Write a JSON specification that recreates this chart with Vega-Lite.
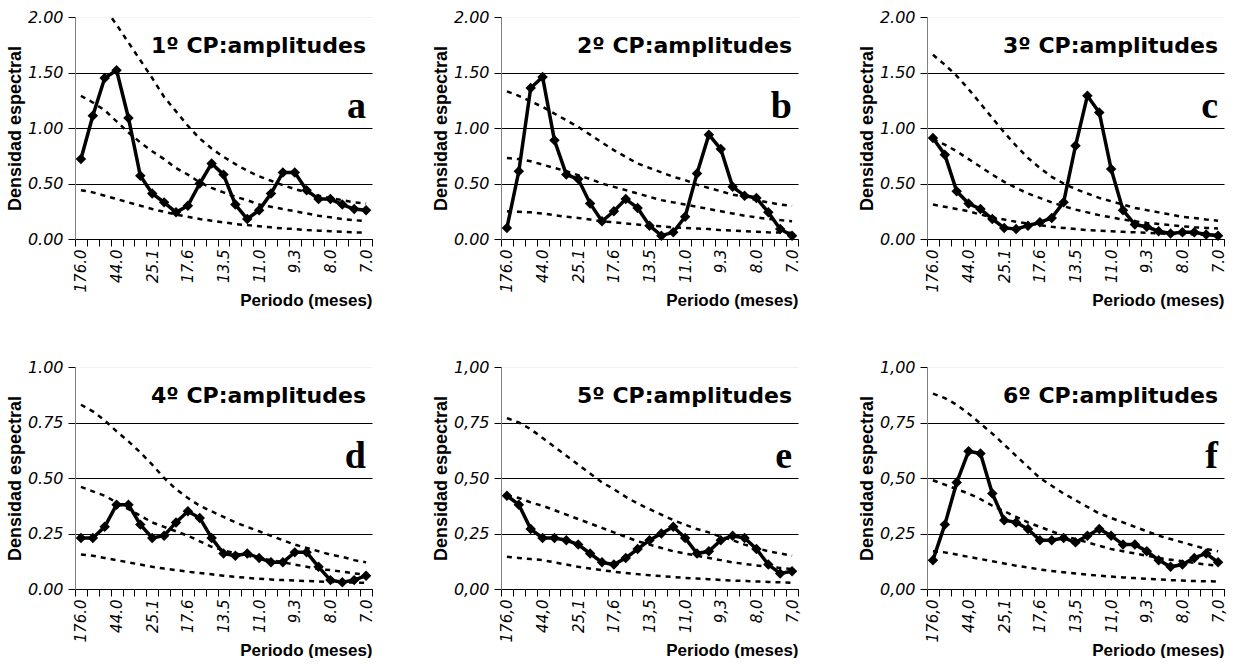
{
  "$schema": "https://vega.github.io/schema/vega-lite/v6.json",
  "background": "white",
  "padding": {"left": 6, "top": 9, "right": 0, "bottom": 0},
  "config": {
    "view": {"stroke": null},
    "font": "Liberation Sans",
    "axis": {"labelColor": "black", "titleColor": "black", "tickColor": "black", "labelFont": "DejaVu Sans", "labelFontStyle": "italic", "titleFont": "Liberation Sans", "titleFontWeight": "bold", "tickSize": 7},
    "axisX": {"domainColor": "black", "tickBand": "extent", "labelAngle": 270, "labelFontSize": 15, "labelPadding": 3, "labelOverlap": false, "grid": false, "titleFontSize": 17, "titleAnchor": "end", "titleAlign": "right", "titleY": 53},
    "axisY": {"domainColor": "#808080", "grid": true, "gridWidth": 1, "labelFontSize": 16, "titleFontSize": 18, "titlePadding": 3, "labelPadding": 5},
    "title": {"anchor": "end", "frame": "group", "font": "DejaVu Sans", "fontSize": 22, "fontWeight": "bold", "color": "black", "offset": -118, "dx": -6, "subtitleFont": "Liberation Serif", "subtitleFontSize": 38, "subtitleFontWeight": "bold", "subtitleColor": "black", "subtitlePadding": 30}
  },
  "datasets": {
    "a": [
      {"k":1,"per":"176.0","obs":0.72,"sup":2.45,"med":1.29,"inf":0.44},
      {"k":2,"per":"88.0","obs":1.11,"sup":2.27,"med":1.23,"inf":0.42},
      {"k":3,"per":"58.7","obs":1.45,"sup":2.08,"med":1.16,"inf":0.39},
      {"k":4,"per":"44.0","obs":1.52,"sup":1.93,"med":1.06,"inf":0.36},
      {"k":5,"per":"35.2","obs":1.09,"sup":1.77,"med":0.96,"inf":0.33},
      {"k":6,"per":"29.3","obs":0.57,"sup":1.61,"med":0.87,"inf":0.30},
      {"k":7,"per":"25.1","obs":0.41,"sup":1.45,"med":0.79,"inf":0.27},
      {"k":8,"per":"22.0","obs":0.33,"sup":1.28,"med":0.72,"inf":0.245},
      {"k":9,"per":"19.6","obs":0.24,"sup":1.15,"med":0.64,"inf":0.22},
      {"k":10,"per":"17.6","obs":0.30,"sup":1.02,"med":0.58,"inf":0.20},
      {"k":11,"per":"16.0","obs":0.50,"sup":0.905,"med":0.51,"inf":0.18},
      {"k":12,"per":"14.7","obs":0.68,"sup":0.815,"med":0.46,"inf":0.165},
      {"k":13,"per":"13.5","obs":0.58,"sup":0.74,"med":0.42,"inf":0.15},
      {"k":14,"per":"12.6","obs":0.31,"sup":0.675,"med":0.38,"inf":0.135},
      {"k":15,"per":"11.7","obs":0.18,"sup":0.615,"med":0.35,"inf":0.125},
      {"k":16,"per":"11.0","obs":0.26,"sup":0.565,"med":0.31,"inf":0.115},
      {"k":17,"per":"10.4","obs":0.41,"sup":0.525,"med":0.29,"inf":0.105},
      {"k":18,"per":"9.8","obs":0.60,"sup":0.485,"med":0.27,"inf":0.095},
      {"k":19,"per":"9.3","obs":0.60,"sup":0.45,"med":0.25,"inf":0.09},
      {"k":20,"per":"8.8","obs":0.44,"sup":0.42,"med":0.23,"inf":0.08},
      {"k":21,"per":"8.4","obs":0.36,"sup":0.39,"med":0.21,"inf":0.075},
      {"k":22,"per":"8.0","obs":0.36,"sup":0.37,"med":0.195,"inf":0.07},
      {"k":23,"per":"7.7","obs":0.31,"sup":0.35,"med":0.18,"inf":0.065},
      {"k":24,"per":"7.3","obs":0.27,"sup":0.33,"med":0.17,"inf":0.06},
      {"k":25,"per":"7.0","obs":0.26,"sup":0.32,"med":0.16,"inf":0.058}
    ],
    "b": [
      {"k":1,"per":"176.0","obs":0.10,"sup":1.33,"med":0.73,"inf":0.25},
      {"k":2,"per":"88.0","obs":0.61,"sup":1.29,"med":0.72,"inf":0.245},
      {"k":3,"per":"58.7","obs":1.36,"sup":1.24,"med":0.70,"inf":0.24},
      {"k":4,"per":"44.0","obs":1.46,"sup":1.19,"med":0.67,"inf":0.23},
      {"k":5,"per":"35.2","obs":0.89,"sup":1.13,"med":0.64,"inf":0.215},
      {"k":6,"per":"29.3","obs":0.58,"sup":1.07,"med":0.61,"inf":0.20},
      {"k":7,"per":"25.1","obs":0.54,"sup":1.01,"med":0.575,"inf":0.19},
      {"k":8,"per":"22.0","obs":0.32,"sup":0.94,"med":0.54,"inf":0.175},
      {"k":9,"per":"19.6","obs":0.16,"sup":0.87,"med":0.50,"inf":0.16},
      {"k":10,"per":"17.6","obs":0.25,"sup":0.80,"med":0.47,"inf":0.15},
      {"k":11,"per":"16.0","obs":0.36,"sup":0.74,"med":0.44,"inf":0.14},
      {"k":12,"per":"14.7","obs":0.28,"sup":0.68,"med":0.41,"inf":0.13},
      {"k":13,"per":"13.5","obs":0.12,"sup":0.64,"med":0.38,"inf":0.12},
      {"k":14,"per":"12.6","obs":0.03,"sup":0.60,"med":0.35,"inf":0.115},
      {"k":15,"per":"11.7","obs":0.06,"sup":0.56,"med":0.33,"inf":0.105},
      {"k":16,"per":"11.0","obs":0.20,"sup":0.53,"med":0.31,"inf":0.10},
      {"k":17,"per":"10.4","obs":0.59,"sup":0.49,"med":0.29,"inf":0.095},
      {"k":18,"per":"9.8","obs":0.94,"sup":0.46,"med":0.27,"inf":0.09},
      {"k":19,"per":"9.3","obs":0.81,"sup":0.43,"med":0.25,"inf":0.08},
      {"k":20,"per":"8.8","obs":0.47,"sup":0.40,"med":0.23,"inf":0.075},
      {"k":21,"per":"8.4","obs":0.39,"sup":0.38,"med":0.21,"inf":0.07},
      {"k":22,"per":"8.0","obs":0.37,"sup":0.35,"med":0.195,"inf":0.065},
      {"k":23,"per":"7.7","obs":0.24,"sup":0.33,"med":0.18,"inf":0.06},
      {"k":24,"per":"7.3","obs":0.09,"sup":0.31,"med":0.17,"inf":0.058},
      {"k":25,"per":"7.0","obs":0.03,"sup":0.30,"med":0.16,"inf":0.055}
    ],
    "c": [
      {"k":1,"per":"176.0","obs":0.91,"sup":1.66,"med":0.90,"inf":0.31},
      {"k":2,"per":"88.0","obs":0.76,"sup":1.57,"med":0.85,"inf":0.29},
      {"k":3,"per":"58.7","obs":0.43,"sup":1.47,"med":0.79,"inf":0.27},
      {"k":4,"per":"44.0","obs":0.32,"sup":1.35,"med":0.72,"inf":0.25},
      {"k":5,"per":"35.2","obs":0.27,"sup":1.22,"med":0.65,"inf":0.22},
      {"k":6,"per":"29.3","obs":0.18,"sup":1.09,"med":0.58,"inf":0.195},
      {"k":7,"per":"25.1","obs":0.10,"sup":0.96,"med":0.515,"inf":0.175},
      {"k":8,"per":"22.0","obs":0.09,"sup":0.84,"med":0.46,"inf":0.155},
      {"k":9,"per":"19.6","obs":0.12,"sup":0.73,"med":0.41,"inf":0.14},
      {"k":10,"per":"17.6","obs":0.15,"sup":0.64,"med":0.37,"inf":0.125},
      {"k":11,"per":"16.0","obs":0.19,"sup":0.56,"med":0.33,"inf":0.11},
      {"k":12,"per":"14.7","obs":0.33,"sup":0.50,"med":0.295,"inf":0.10},
      {"k":13,"per":"13.5","obs":0.84,"sup":0.45,"med":0.265,"inf":0.09},
      {"k":14,"per":"12.6","obs":1.29,"sup":0.41,"med":0.24,"inf":0.08},
      {"k":15,"per":"11.7","obs":1.14,"sup":0.37,"med":0.215,"inf":0.075},
      {"k":16,"per":"11.0","obs":0.63,"sup":0.34,"med":0.195,"inf":0.07},
      {"k":17,"per":"10.4","obs":0.26,"sup":0.31,"med":0.175,"inf":0.065},
      {"k":18,"per":"9.8","obs":0.13,"sup":0.28,"med":0.16,"inf":0.06},
      {"k":19,"per":"9.3","obs":0.11,"sup":0.26,"med":0.145,"inf":0.055},
      {"k":20,"per":"8.8","obs":0.07,"sup":0.24,"med":0.135,"inf":0.05},
      {"k":21,"per":"8.4","obs":0.05,"sup":0.22,"med":0.125,"inf":0.047},
      {"k":22,"per":"8.0","obs":0.06,"sup":0.20,"med":0.115,"inf":0.045},
      {"k":23,"per":"7.7","obs":0.06,"sup":0.19,"med":0.105,"inf":0.042},
      {"k":24,"per":"7.3","obs":0.04,"sup":0.175,"med":0.10,"inf":0.04},
      {"k":25,"per":"7.0","obs":0.03,"sup":0.165,"med":0.095,"inf":0.038}
    ],
    "d": [
      {"k":1,"per":"176.0","obs":0.23,"sup":0.83,"med":0.46,"inf":0.155},
      {"k":2,"per":"88.0","obs":0.23,"sup":0.80,"med":0.44,"inf":0.15},
      {"k":3,"per":"58.7","obs":0.28,"sup":0.76,"med":0.42,"inf":0.14},
      {"k":4,"per":"44.0","obs":0.38,"sup":0.71,"med":0.39,"inf":0.13},
      {"k":5,"per":"35.2","obs":0.38,"sup":0.665,"med":0.36,"inf":0.12},
      {"k":6,"per":"29.3","obs":0.29,"sup":0.615,"med":0.33,"inf":0.11},
      {"k":7,"per":"25.1","obs":0.23,"sup":0.56,"med":0.30,"inf":0.10},
      {"k":8,"per":"22.0","obs":0.24,"sup":0.50,"med":0.28,"inf":0.092},
      {"k":9,"per":"19.6","obs":0.30,"sup":0.45,"med":0.26,"inf":0.085},
      {"k":10,"per":"17.6","obs":0.35,"sup":0.41,"med":0.24,"inf":0.078},
      {"k":11,"per":"16.0","obs":0.32,"sup":0.375,"med":0.215,"inf":0.072},
      {"k":12,"per":"14.7","obs":0.23,"sup":0.35,"med":0.19,"inf":0.066},
      {"k":13,"per":"13.5","obs":0.16,"sup":0.325,"med":0.175,"inf":0.06},
      {"k":14,"per":"12.6","obs":0.15,"sup":0.30,"med":0.16,"inf":0.055},
      {"k":15,"per":"11.7","obs":0.16,"sup":0.28,"med":0.15,"inf":0.05},
      {"k":16,"per":"11.0","obs":0.14,"sup":0.26,"med":0.14,"inf":0.046},
      {"k":17,"per":"10.4","obs":0.12,"sup":0.24,"med":0.13,"inf":0.043},
      {"k":18,"per":"9.8","obs":0.12,"sup":0.22,"med":0.12,"inf":0.04},
      {"k":19,"per":"9.3","obs":0.165,"sup":0.20,"med":0.11,"inf":0.038},
      {"k":20,"per":"8.8","obs":0.165,"sup":0.185,"med":0.10,"inf":0.036},
      {"k":21,"per":"8.4","obs":0.10,"sup":0.17,"med":0.09,"inf":0.034},
      {"k":22,"per":"8.0","obs":0.04,"sup":0.155,"med":0.085,"inf":0.032},
      {"k":23,"per":"7.7","obs":0.03,"sup":0.145,"med":0.078,"inf":0.03},
      {"k":24,"per":"7.3","obs":0.04,"sup":0.13,"med":0.07,"inf":0.029},
      {"k":25,"per":"7.0","obs":0.06,"sup":0.12,"med":0.065,"inf":0.028}
    ],
    "e": [
      {"k":1,"per":"176,0","obs":0.42,"sup":0.77,"med":0.42,"inf":0.145},
      {"k":2,"per":"88,0","obs":0.38,"sup":0.75,"med":0.41,"inf":0.14},
      {"k":3,"per":"58,7","obs":0.27,"sup":0.72,"med":0.39,"inf":0.135},
      {"k":4,"per":"44,0","obs":0.23,"sup":0.68,"med":0.375,"inf":0.13},
      {"k":5,"per":"35,2","obs":0.23,"sup":0.64,"med":0.355,"inf":0.12},
      {"k":6,"per":"29,3","obs":0.22,"sup":0.60,"med":0.335,"inf":0.11},
      {"k":7,"per":"25,1","obs":0.20,"sup":0.56,"med":0.315,"inf":0.10},
      {"k":8,"per":"22,0","obs":0.16,"sup":0.52,"med":0.295,"inf":0.092},
      {"k":9,"per":"19,6","obs":0.12,"sup":0.48,"med":0.275,"inf":0.085},
      {"k":10,"per":"17,6","obs":0.11,"sup":0.45,"med":0.255,"inf":0.078},
      {"k":11,"per":"16,0","obs":0.14,"sup":0.415,"med":0.235,"inf":0.072},
      {"k":12,"per":"14,7","obs":0.18,"sup":0.385,"med":0.215,"inf":0.067},
      {"k":13,"per":"13,5","obs":0.22,"sup":0.36,"med":0.20,"inf":0.062},
      {"k":14,"per":"12,6","obs":0.25,"sup":0.335,"med":0.185,"inf":0.058},
      {"k":15,"per":"11,7","obs":0.28,"sup":0.31,"med":0.17,"inf":0.054},
      {"k":16,"per":"11,0","obs":0.23,"sup":0.29,"med":0.16,"inf":0.05},
      {"k":17,"per":"10,4","obs":0.16,"sup":0.27,"med":0.15,"inf":0.047},
      {"k":18,"per":"9,8","obs":0.17,"sup":0.255,"med":0.14,"inf":0.044},
      {"k":19,"per":"9,3","obs":0.22,"sup":0.235,"med":0.13,"inf":0.041},
      {"k":20,"per":"8,8","obs":0.24,"sup":0.22,"med":0.12,"inf":0.038},
      {"k":21,"per":"8,4","obs":0.23,"sup":0.20,"med":0.113,"inf":0.036},
      {"k":22,"per":"8,0","obs":0.18,"sup":0.185,"med":0.106,"inf":0.034},
      {"k":23,"per":"7,7","obs":0.11,"sup":0.17,"med":0.10,"inf":0.032},
      {"k":24,"per":"7,3","obs":0.07,"sup":0.16,"med":0.095,"inf":0.03},
      {"k":25,"per":"7,0","obs":0.08,"sup":0.15,"med":0.09,"inf":0.028}
    ],
    "f": [
      {"k":1,"per":"176,0","obs":0.13,"sup":0.88,"med":0.49,"inf":0.17},
      {"k":2,"per":"88,0","obs":0.29,"sup":0.86,"med":0.47,"inf":0.165},
      {"k":3,"per":"58,7","obs":0.48,"sup":0.83,"med":0.45,"inf":0.155},
      {"k":4,"per":"44,0","obs":0.62,"sup":0.79,"med":0.43,"inf":0.145},
      {"k":5,"per":"35,2","obs":0.61,"sup":0.745,"med":0.405,"inf":0.135},
      {"k":6,"per":"29,3","obs":0.43,"sup":0.70,"med":0.375,"inf":0.125},
      {"k":7,"per":"25,1","obs":0.31,"sup":0.65,"med":0.35,"inf":0.115},
      {"k":8,"per":"22,0","obs":0.30,"sup":0.60,"med":0.325,"inf":0.105},
      {"k":9,"per":"19,6","obs":0.27,"sup":0.55,"med":0.30,"inf":0.097},
      {"k":10,"per":"17,6","obs":0.22,"sup":0.50,"med":0.28,"inf":0.088},
      {"k":11,"per":"16,0","obs":0.22,"sup":0.465,"med":0.26,"inf":0.081},
      {"k":12,"per":"14,7","obs":0.23,"sup":0.43,"med":0.24,"inf":0.075},
      {"k":13,"per":"13,5","obs":0.21,"sup":0.40,"med":0.225,"inf":0.07},
      {"k":14,"per":"12,6","obs":0.24,"sup":0.37,"med":0.21,"inf":0.065},
      {"k":15,"per":"11,7","obs":0.27,"sup":0.34,"med":0.195,"inf":0.06},
      {"k":16,"per":"11,0","obs":0.24,"sup":0.32,"med":0.18,"inf":0.056},
      {"k":17,"per":"10,4","obs":0.20,"sup":0.30,"med":0.17,"inf":0.052},
      {"k":18,"per":"9,8","obs":0.20,"sup":0.28,"med":0.16,"inf":0.049},
      {"k":19,"per":"9,3","obs":0.17,"sup":0.26,"med":0.15,"inf":0.046},
      {"k":20,"per":"8,8","obs":0.13,"sup":0.24,"med":0.14,"inf":0.043},
      {"k":21,"per":"8,4","obs":0.10,"sup":0.225,"med":0.132,"inf":0.04},
      {"k":22,"per":"8,0","obs":0.11,"sup":0.21,"med":0.125,"inf":0.038},
      {"k":23,"per":"7,7","obs":0.14,"sup":0.195,"med":0.118,"inf":0.036},
      {"k":24,"per":"7,3","obs":0.16,"sup":0.18,"med":0.11,"inf":0.035},
      {"k":25,"per":"7,0","obs":0.12,"sup":0.17,"med":0.105,"inf":0.034}
    ]
  },
  "columns": 3,
  "spacing": {"row": 128, "column": 129},
  "bounds": "flush",
  "concat": [
    {
      "data": {"name": "a"},
      "transform": [{"fold": ["obs", "sup", "med", "inf"], "as": ["curva", "valor"]}],
      "width": 297, "height": 222,
      "title": {"text": "1º CP:amplitudes", "subtitle": "a"},
      "encoding": {
        "x": {"field": "per", "type": "ordinal", "sort": {"field": "k", "op": "min"}, "scale": {"type": "band", "paddingInner": 0, "paddingOuter": 0}, "axis": {"title": "Periodo (meses)", "labelExpr": "indexof(['176.0','44.0','25.1','17.6','13.5','11.0','9.3','8.0','7.0'], datum.label) >= 0 ? datum.label : ''"}},
        "y": {"field": "valor", "type": "quantitative", "scale": {"domain": [0, 2], "nice": false}, "axis": {"title": "Densidad espectral", "values": [0, 0.5, 1, 1.5, 2], "format": ".2f", "gridColor": {"condition": {"test": "datum.value >= 2", "value": "#f2f2f2"}, "value": "black"}}}
      },
      "layer": [
        {"transform": [{"filter": "datum.curva != 'obs'"}], "mark": {"type": "line", "color": "black", "strokeWidth": 2.5, "strokeDash": [5, 5], "clip": true}, "encoding": {"detail": {"field": "curva"}}},
        {"transform": [{"filter": "datum.curva == 'obs'"}], "mark": {"type": "line", "color": "black", "strokeWidth": 3.5, "point": {"shape": "diamond", "size": 110, "color": "black", "filled": true}}, "encoding": {}}
      ]
    },
    {
      "data": {"name": "b"},
      "transform": [{"fold": ["obs", "sup", "med", "inf"], "as": ["curva", "valor"]}],
      "width": 297, "height": 222,
      "title": {"text": "2º CP:amplitudes", "subtitle": "b\u00a0"},
      "encoding": {
        "x": {"field": "per", "type": "ordinal", "sort": {"field": "k", "op": "min"}, "scale": {"type": "band", "paddingInner": 0, "paddingOuter": 0}, "axis": {"title": "Periodo (meses)", "labelExpr": "indexof(['176.0','44.0','25.1','17.6','13.5','11.0','9.3','8.0','7.0'], datum.label) >= 0 ? datum.label : ''"}},
        "y": {"field": "valor", "type": "quantitative", "scale": {"domain": [0, 2], "nice": false}, "axis": {"title": "Densidad espectral", "values": [0, 0.5, 1, 1.5, 2], "format": ".2f", "gridColor": {"condition": {"test": "datum.value >= 2", "value": "#f2f2f2"}, "value": "black"}}}
      },
      "layer": [
        {"transform": [{"filter": "datum.curva != 'obs'"}], "mark": {"type": "line", "color": "black", "strokeWidth": 2.5, "strokeDash": [5, 5], "clip": true}, "encoding": {"detail": {"field": "curva"}}},
        {"transform": [{"filter": "datum.curva == 'obs'"}], "mark": {"type": "line", "color": "black", "strokeWidth": 3.5, "point": {"shape": "diamond", "size": 110, "color": "black", "filled": true}}, "encoding": {}}
      ]
    },
    {
      "data": {"name": "c"},
      "transform": [{"fold": ["obs", "sup", "med", "inf"], "as": ["curva", "valor"]}],
      "width": 297, "height": 222,
      "title": {"text": "3º CP:amplitudes", "subtitle": "c"},
      "encoding": {
        "x": {"field": "per", "type": "ordinal", "sort": {"field": "k", "op": "min"}, "scale": {"type": "band", "paddingInner": 0, "paddingOuter": 0}, "axis": {"title": "Periodo (meses)", "labelExpr": "indexof(['176.0','44.0','25.1','17.6','13.5','11.0','9.3','8.0','7.0'], datum.label) >= 0 ? datum.label : ''"}},
        "y": {"field": "valor", "type": "quantitative", "scale": {"domain": [0, 2], "nice": false}, "axis": {"title": "Densidad espectral", "values": [0, 0.5, 1, 1.5, 2], "format": ".2f", "gridColor": {"condition": {"test": "datum.value >= 2", "value": "#f2f2f2"}, "value": "black"}}}
      },
      "layer": [
        {"transform": [{"filter": "datum.curva != 'obs'"}], "mark": {"type": "line", "color": "black", "strokeWidth": 2.5, "strokeDash": [5, 5], "clip": true}, "encoding": {"detail": {"field": "curva"}}},
        {"transform": [{"filter": "datum.curva == 'obs'"}], "mark": {"type": "line", "color": "black", "strokeWidth": 3.5, "point": {"shape": "diamond", "size": 110, "color": "black", "filled": true}}, "encoding": {}}
      ]
    },
    {
      "data": {"name": "d"},
      "transform": [{"fold": ["obs", "sup", "med", "inf"], "as": ["curva", "valor"]}],
      "width": 297, "height": 222,
      "title": {"text": "4º CP:amplitudes", "subtitle": "d\u00a0\u00a0\u00a0"},
      "encoding": {
        "x": {"field": "per", "type": "ordinal", "sort": {"field": "k", "op": "min"}, "scale": {"type": "band", "paddingInner": 0, "paddingOuter": 0}, "axis": {"title": "Periodo (meses)", "labelExpr": "indexof(['176.0','44.0','25.1','17.6','13.5','11.0','9.3','8.0','7.0'], datum.label) >= 0 ? datum.label : ''"}},
        "y": {"field": "valor", "type": "quantitative", "scale": {"domain": [0, 1], "nice": false}, "axis": {"title": "Densidad espectral", "values": [0, 0.25, 0.5, 0.75, 1], "format": ".2f", "gridColor": {"condition": {"test": "datum.value >= 1", "value": "#f2f2f2"}, "value": "black"}}}
      },
      "layer": [
        {"transform": [{"filter": "datum.curva != 'obs'"}], "mark": {"type": "line", "color": "black", "strokeWidth": 2.5, "strokeDash": [5, 5], "clip": true}, "encoding": {"detail": {"field": "curva"}}},
        {"transform": [{"filter": "datum.curva == 'obs'"}], "mark": {"type": "line", "color": "black", "strokeWidth": 3.5, "point": {"shape": "diamond", "size": 110, "color": "black", "filled": true}}, "encoding": {}}
      ]
    },
    {
      "data": {"name": "e"},
      "transform": [{"fold": ["obs", "sup", "med", "inf"], "as": ["curva", "valor"]}],
      "width": 297, "height": 222,
      "title": {"text": "5º CP:amplitudes", "subtitle": "e\u00a0\u00a0\u00a0"},
      "encoding": {
        "x": {"field": "per", "type": "ordinal", "sort": {"field": "k", "op": "min"}, "scale": {"type": "band", "paddingInner": 0, "paddingOuter": 0}, "axis": {"title": "Periodo (meses)", "labelExpr": "indexof(['176,0','44,0','25,1','17,6','13,5','11,0','9,3','8,0','7,0'], datum.label) >= 0 ? datum.label : ''"}},
        "y": {"field": "valor", "type": "quantitative", "scale": {"domain": [0, 1], "nice": false}, "axis": {"title": "Densidad espectral", "values": [0, 0.25, 0.5, 0.75, 1], "labelExpr": "replace(format(datum.value, '.2f'), '.', ',')", "gridColor": {"condition": {"test": "datum.value >= 1", "value": "#f2f2f2"}, "value": "black"}}}
      },
      "layer": [
        {"transform": [{"filter": "datum.curva != 'obs'"}], "mark": {"type": "line", "color": "black", "strokeWidth": 2.5, "strokeDash": [5, 5], "clip": true}, "encoding": {"detail": {"field": "curva"}}},
        {"transform": [{"filter": "datum.curva == 'obs'"}], "mark": {"type": "line", "color": "black", "strokeWidth": 3.5, "point": {"shape": "diamond", "size": 110, "color": "black", "filled": true}}, "encoding": {}}
      ]
    },
    {
      "data": {"name": "f"},
      "transform": [{"fold": ["obs", "sup", "med", "inf"], "as": ["curva", "valor"]}],
      "width": 297, "height": 222,
      "title": {"text": "6º CP:amplitudes", "subtitle": "f\u00a0\u00a0"},
      "encoding": {
        "x": {"field": "per", "type": "ordinal", "sort": {"field": "k", "op": "min"}, "scale": {"type": "band", "paddingInner": 0, "paddingOuter": 0}, "axis": {"title": "Periodo (meses)", "labelExpr": "indexof(['176,0','44,0','25,1','17,6','13,5','11,0','9,3','8,0','7,0'], datum.label) >= 0 ? datum.label : ''"}},
        "y": {"field": "valor", "type": "quantitative", "scale": {"domain": [0, 1], "nice": false}, "axis": {"title": "Densidad espectral", "values": [0, 0.25, 0.5, 0.75, 1], "labelExpr": "replace(format(datum.value, '.2f'), '.', ',')", "gridColor": {"condition": {"test": "datum.value >= 1", "value": "#f2f2f2"}, "value": "black"}}}
      },
      "layer": [
        {"transform": [{"filter": "datum.curva != 'obs'"}], "mark": {"type": "line", "color": "black", "strokeWidth": 2.5, "strokeDash": [5, 5], "clip": true}, "encoding": {"detail": {"field": "curva"}}},
        {"transform": [{"filter": "datum.curva == 'obs'"}], "mark": {"type": "line", "color": "black", "strokeWidth": 3.5, "point": {"shape": "diamond", "size": 110, "color": "black", "filled": true}}, "encoding": {}}
      ]
    }
  ]
}
